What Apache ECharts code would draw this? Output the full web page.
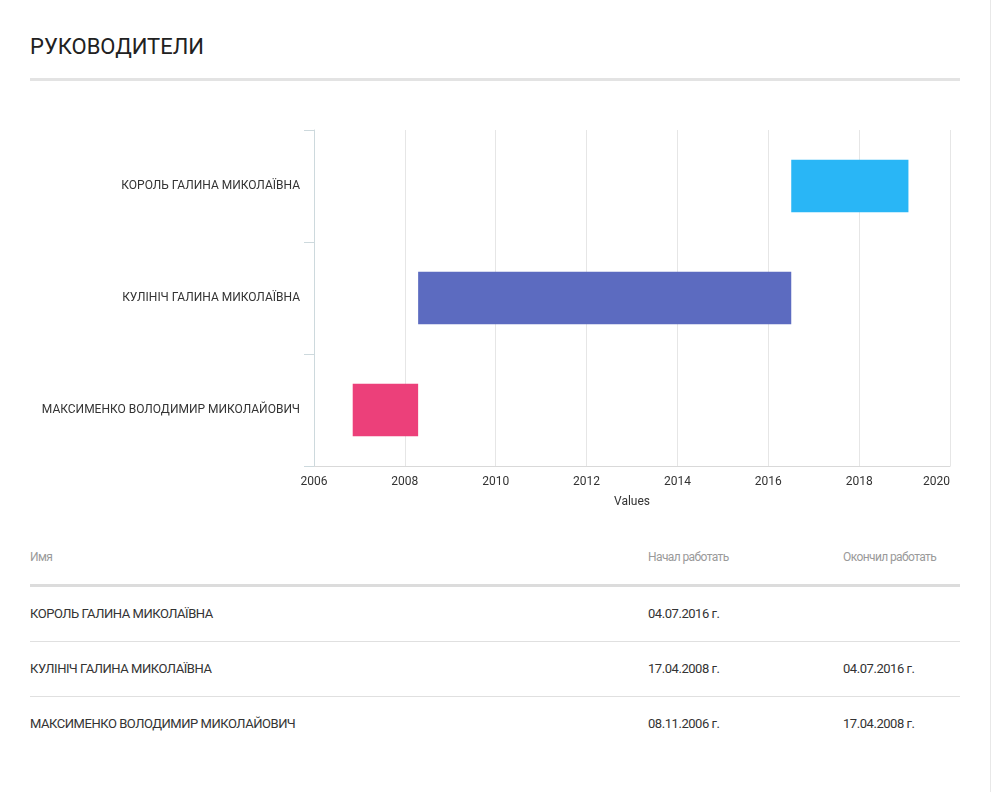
<!DOCTYPE html>
<html><head><meta charset="utf-8">
<script src="https://cdn.jsdelivr.net/npm/echarts@6/dist/echarts.min.js"></script>
<style>
html,body{margin:0;padding:0;background:#fff;width:991px;height:792px;overflow:hidden;font-family:Roboto,"Noto Sans",sans-serif;}
#page{position:relative;width:991px;height:792px;}
#edge{position:absolute;left:990px;top:0;width:1px;height:792px;background:#e8e8e8;}
#title{position:absolute;left:30px;top:32px;font-size:22px;color:#212121;line-height:30px;letter-spacing:0px;}
#rule{position:absolute;left:30px;top:78px;width:930px;height:3px;background:#e3e3e3;}
#chart{position:absolute;left:0;top:100px;width:991px;height:430px;}
table{position:absolute;left:30px;top:530px;width:930px;border-collapse:collapse;}
th{font-weight:normal;font-size:12px;letter-spacing:-0.6px;color:#9a9a9a;text-align:left;height:54px;padding:0;border-bottom:3px solid #dcdcdc;vertical-align:middle;}
td{font-size:13px;letter-spacing:-0.45px;color:#333;height:52px;padding:0 0 2px 0;border-bottom:1px solid #e0e0e0;vertical-align:middle;}
tr:last-child td{border-bottom:none;}
.c1{width:618px;} .c2{width:195px;}
</style></head>
<body><div id="page">
<div id="title">РУКОВОДИТЕЛИ</div>
<div id="rule"></div>
<div id="chart"></div>
<table id="tbl"><thead><tr><th class="c1">Имя</th><th class="c2">Начал работать</th><th>Окончил работать</th></tr></thead><tbody></tbody></table>
<div id="edge"></div>
</div>
<script>
// ---- data ----
const names = ['КОРОЛЬ ГАЛИНА МИКОЛАЇВНА', 'КУЛІНІЧ ГАЛИНА МИКОЛАЇВНА', 'МАКСИМЕНКО ВОЛОДИМИР МИКОЛАЙОВИЧ'];
const startDates = ['2016-07-04', '2008-04-17', '2006-11-08'];
const endDates = ['2019-02-01', '2016-07-04', '2008-04-17'];   // bar ends (first = "now")
const endLabels = ['', '04.07.2016 г.', '17.04.2008 г.'];
const startLabels = ['04.07.2016 г.', '17.04.2008 г.', '08.11.2006 г.'];
const colors = ['#29b6f6', '#5c6bc0', '#ec407a'];
const yearTicks = [2006, 2008, 2010, 2012, 2014, 2016, 2018, 2020];
const axisName = 'Values';

function toYear(s) {
  const d = new Date(s + 'T00:00:00Z');
  const y = d.getUTCFullYear();
  const a = Date.UTC(y, 0, 1), b = Date.UTC(y + 1, 0, 1);
  return y + (d.getTime() - a) / (b - a);
}

// table
const tb = document.querySelector('#tbl tbody');
names.forEach((n, i) => {
  const tr = document.createElement('tr');
  [n, startLabels[i], endLabels[i]].forEach(t => { const td = document.createElement('td'); td.textContent = t; tr.appendChild(td); });
  tb.appendChild(tr);
});

const chart = echarts.init(document.getElementById('chart'));
const data = names.map((n, i) => ({ value: [i, toYear(startDates[i]), toYear(endDates[i])], itemStyle: { color: colors[i] } }));

chart.setOption({
  animation: false,
  textStyle: { fontFamily: 'Roboto' },
  grid: { left: 314, right: 41, top: 30, bottom: 64 },
  xAxis: {
    type: 'value', min: yearTicks[0], max: yearTicks[yearTicks.length - 1], interval: 2,
    name: axisName, nameLocation: 'middle', nameGap: 30,
    nameTextStyle: { fontSize: 12, color: '#333' },
    axisLine: { show: true, lineStyle: { color: '#d9d9d9' } },
    axisTick: { show: false },
    axisLabel: { color: '#333', fontSize: 12, margin: 10, alignMaxLabel: 'right', formatter: v => String(v) },
    splitLine: { show: true, lineStyle: { color: '#e6e6e6' } }
  },
  yAxis: {
    type: 'category', data: names, inverse: true,
    axisLine: { show: true, lineStyle: { color: '#cdd9dd' } },
    axisTick: { show: true, length: 10, lineStyle: { color: '#cdd9dd' } },
    axisLabel: { color: '#333', fontSize: 12, margin: 14 },
    splitLine: { show: false }
  },
  series: [{
    type: 'custom',
    encode: { x: [1, 2], y: 0 },
    data: data,
    renderItem: function (params, api) {
      const c = api.value(0);
      const p0 = api.coord([api.value(1), c]);
      const p1 = api.coord([api.value(2), c]);
      const h = api.size([0, 1])[1] * 0.47;
      return {
        type: 'rect',
        shape: { x: p0[0], y: p0[1] - h / 2, width: p1[0] - p0[0], height: h },
        style: { fill: api.visual('color') }
      };
    }
  }]
});
</script>
</body></html>
